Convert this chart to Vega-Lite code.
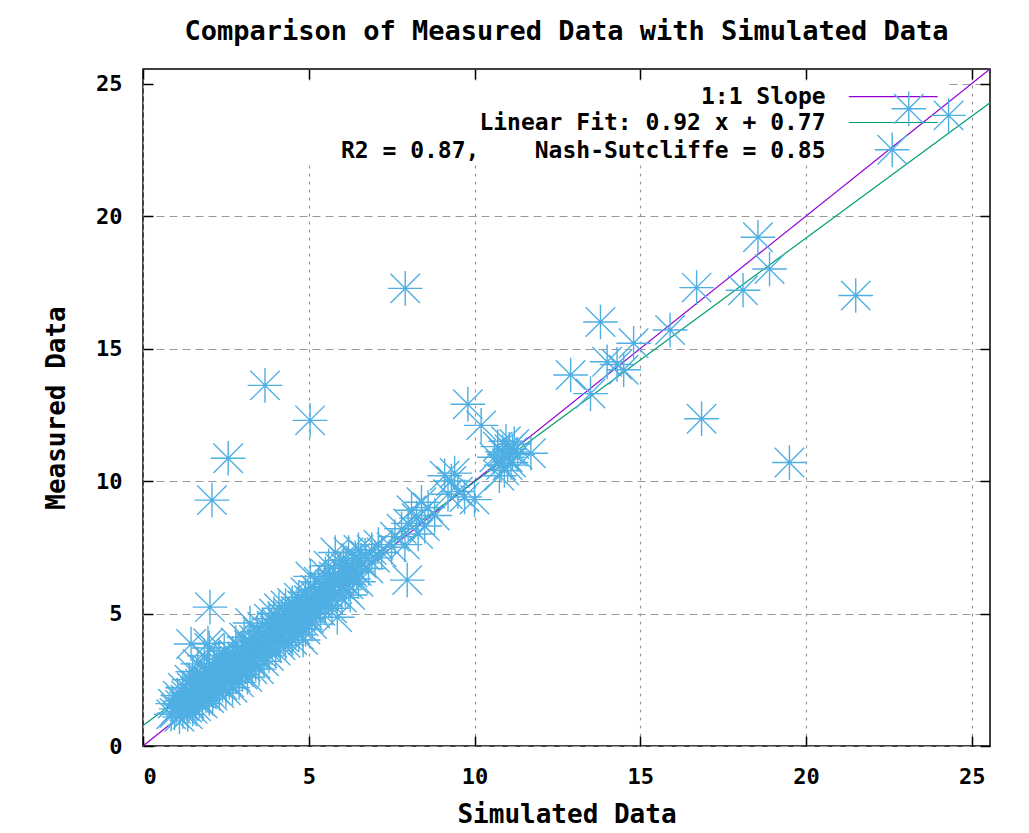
{
  "$schema": "https://vega.github.io/schema/vega-lite/v6.json",
  "width": 847,
  "height": 677,
  "autosize": {"type": "none"},
  "padding": {"left": 143, "top": 69, "right": 39, "bottom": 87},
  "background": "white",
  "config": {
    "view": {"stroke": "black", "strokeWidth": 1.5, "fill": "white"},
    "font": "DejaVu Sans Mono",
    "axis": {
      "domain": false,
      "labelFont": "DejaVu Sans Mono",
      "labelFontWeight": "bold",
      "labelFontSize": 22,
      "labelColor": "black",
      "tickColor": "black",
      "tickWidth": 1.5,
      "tickSize": -10,
      "titleFont": "DejaVu Sans Mono",
      "titleFontWeight": "bold",
      "titleFontSize": 26,
      "titleColor": "black",
      "gridColor": "#9a9a9a",
      "gridWidth": 1.2,
      "gridOpacity": 1
    }
  },
  "title": {
    "text": "Comparison of Measured Data with Simulated Data",
    "font": "DejaVu Sans Mono",
    "fontWeight": "bold",
    "fontSize": 27,
    "color": "black",
    "anchor": "middle",
    "offset": 22
  },
  "datasets": {
    "pts": [
      {"sim": 0.85, "meas": 1.2}, {"sim": 0.9, "meas": 1.6}, {"sim": 1.0, "meas": 1.4}, {"sim": 1.05, "meas": 1.9},
      {"sim": 1.1, "meas": 1.1}, {"sim": 1.15, "meas": 1.7}, {"sim": 1.2, "meas": 1.3}, {"sim": 1.2, "meas": 2.2},
      {"sim": 1.25, "meas": 1.5}, {"sim": 1.3, "meas": 1.9}, {"sim": 1.35, "meas": 1.2}, {"sim": 1.4, "meas": 2.5},
      {"sim": 1.4, "meas": 1.6}, {"sim": 1.45, "meas": 2.0}, {"sim": 1.45, "meas": 3.85}, {"sim": 1.5, "meas": 1.4},
      {"sim": 1.5, "meas": 2.8}, {"sim": 1.55, "meas": 1.8}, {"sim": 1.6, "meas": 2.3}, {"sim": 1.6, "meas": 1.5},
      {"sim": 1.65, "meas": 3.1}, {"sim": 1.7, "meas": 2.0}, {"sim": 1.7, "meas": 1.7}, {"sim": 1.75, "meas": 2.6},
      {"sim": 1.8, "meas": 1.6}, {"sim": 1.8, "meas": 2.2}, {"sim": 1.85, "meas": 3.4}, {"sim": 1.9, "meas": 1.9},
      {"sim": 1.9, "meas": 2.5}, {"sim": 1.95, "meas": 2.1}, {"sim": 2.0, "meas": 1.8}, {"sim": 2.0, "meas": 2.8},
      {"sim": 2.0, "meas": 3.7}, {"sim": 1.96, "meas": 3.88}, {"sim": 2.02, "meas": 5.24},
      {"sim": 0.95, "meas": 1.25}, {"sim": 1.12, "meas": 1.55}, {"sim": 1.28, "meas": 1.75}, {"sim": 1.33, "meas": 1.45},
      {"sim": 1.48, "meas": 2.2}, {"sim": 1.58, "meas": 2.05}, {"sim": 1.62, "meas": 1.85}, {"sim": 1.72, "meas": 2.35},
      {"sim": 1.78, "meas": 1.95}, {"sim": 1.88, "meas": 2.3}, {"sim": 1.92, "meas": 2.75}, {"sim": 1.98, "meas": 2.45},
      {"sim": 2.12, "meas": 2.2}, {"sim": 2.18, "meas": 2.65}, {"sim": 2.28, "meas": 2.35}, {"sim": 2.38, "meas": 2.85},
      {"sim": 2.42, "meas": 2.55}, {"sim": 2.52, "meas": 2.75}, {"sim": 2.58, "meas": 3.3}, {"sim": 2.68, "meas": 2.9},
      {"sim": 2.78, "meas": 3.2}, {"sim": 2.88, "meas": 3.0}, {"sim": 2.98, "meas": 3.35}, {"sim": 3.08, "meas": 3.55},
      {"sim": 3.18, "meas": 3.4}, {"sim": 3.28, "meas": 3.75}, {"sim": 3.38, "meas": 3.45}, {"sim": 3.48, "meas": 3.85},
      {"sim": 2.05, "meas": 2.3}, {"sim": 2.1, "meas": 1.9}, {"sim": 2.1, "meas": 2.6}, {"sim": 2.15, "meas": 3.0},
      {"sim": 2.2, "meas": 2.1}, {"sim": 2.2, "meas": 2.4}, {"sim": 2.25, "meas": 2.8}, {"sim": 2.3, "meas": 3.3},
      {"sim": 2.3, "meas": 2.0}, {"sim": 2.35, "meas": 2.6}, {"sim": 2.4, "meas": 2.3}, {"sim": 2.4, "meas": 3.0},
      {"sim": 2.45, "meas": 3.6}, {"sim": 2.5, "meas": 2.5}, {"sim": 2.5, "meas": 2.1}, {"sim": 2.55, "meas": 2.9},
      {"sim": 2.6, "meas": 3.2}, {"sim": 2.6, "meas": 2.4}, {"sim": 2.65, "meas": 2.7}, {"sim": 2.7, "meas": 3.5},
      {"sim": 2.7, "meas": 2.2}, {"sim": 2.75, "meas": 3.0}, {"sim": 2.8, "meas": 2.6}, {"sim": 2.8, "meas": 3.9},
      {"sim": 2.85, "meas": 3.3}, {"sim": 2.9, "meas": 2.8}, {"sim": 2.9, "meas": 2.4}, {"sim": 2.95, "meas": 3.1},
      {"sim": 3.0, "meas": 3.6}, {"sim": 3.0, "meas": 2.7}, {"sim": 3.05, "meas": 4.1}, {"sim": 3.1, "meas": 3.0},
      {"sim": 3.1, "meas": 3.3}, {"sim": 3.15, "meas": 2.6}, {"sim": 3.2, "meas": 3.8}, {"sim": 3.23, "meas": 4.64},
      {"sim": 3.25, "meas": 3.2}, {"sim": 3.3, "meas": 2.9}, {"sim": 3.3, "meas": 3.5}, {"sim": 3.35, "meas": 4.0},
      {"sim": 3.4, "meas": 3.1}, {"sim": 3.4, "meas": 3.7}, {"sim": 3.45, "meas": 4.3}, {"sim": 3.5, "meas": 3.4},
      {"sim": 3.5, "meas": 2.9},
      {"sim": 3.55, "meas": 3.9}, {"sim": 3.6, "meas": 3.5}, {"sim": 3.6, "meas": 4.5}, {"sim": 3.65, "meas": 3.2},
      {"sim": 3.7, "meas": 4.1}, {"sim": 3.75, "meas": 3.7}, {"sim": 3.8, "meas": 4.8}, {"sim": 3.8, "meas": 3.4},
      {"sim": 3.85, "meas": 4.3}, {"sim": 3.9, "meas": 3.9}, {"sim": 3.95, "meas": 5.0}, {"sim": 4.0, "meas": 4.2},
      {"sim": 4.0, "meas": 3.6}, {"sim": 4.05, "meas": 4.6}, {"sim": 4.1, "meas": 4.0}, {"sim": 4.1, "meas": 5.2},
      {"sim": 4.15, "meas": 3.8}, {"sim": 4.2, "meas": 4.4}, {"sim": 4.2, "meas": 4.9}, {"sim": 4.25, "meas": 4.1},
      {"sim": 4.3, "meas": 5.3}, {"sim": 4.3, "meas": 3.9}, {"sim": 4.35, "meas": 4.7}, {"sim": 4.4, "meas": 4.3},
      {"sim": 4.4, "meas": 5.0}, {"sim": 4.45, "meas": 4.5}, {"sim": 4.5, "meas": 5.4}, {"sim": 4.5, "meas": 4.0},
      {"sim": 4.55, "meas": 4.8}, {"sim": 4.6, "meas": 4.4}, {"sim": 4.6, "meas": 5.1}, {"sim": 4.65, "meas": 4.6},
      {"sim": 4.7, "meas": 5.6}, {"sim": 4.7, "meas": 4.2}, {"sim": 4.75, "meas": 4.9}, {"sim": 4.83, "meas": 4.0},
      {"sim": 4.8, "meas": 5.3}, {"sim": 4.85, "meas": 4.7}, {"sim": 4.9, "meas": 5.8}, {"sim": 4.9, "meas": 4.4},
      {"sim": 4.95, "meas": 5.0}, {"sim": 5.0, "meas": 4.8}, {"sim": 5.0, "meas": 5.5}, {"sim": 5.05, "meas": 6.4},
      {"sim": 5.1, "meas": 4.6}, {"sim": 5.1, "meas": 5.2}, {"sim": 5.15, "meas": 5.7},
      {"sim": 3.62, "meas": 4.05}, {"sim": 3.72, "meas": 3.85}, {"sim": 3.88, "meas": 4.55}, {"sim": 3.98, "meas": 4.35},
      {"sim": 4.08, "meas": 4.25}, {"sim": 4.18, "meas": 4.65}, {"sim": 4.28, "meas": 4.45}, {"sim": 4.38, "meas": 4.85},
      {"sim": 4.48, "meas": 4.7}, {"sim": 4.58, "meas": 4.95}, {"sim": 4.68, "meas": 5.2}, {"sim": 4.78, "meas": 5.05},
      {"sim": 4.88, "meas": 5.35}, {"sim": 4.98, "meas": 5.2}, {"sim": 5.08, "meas": 5.45},
      {"sim": 5.2, "meas": 5.0}, {"sim": 5.2, "meas": 5.9}, {"sim": 5.25, "meas": 5.4}, {"sim": 5.3, "meas": 6.2},
      {"sim": 5.35, "meas": 5.1}, {"sim": 5.4, "meas": 5.7}, {"sim": 5.45, "meas": 6.0}, {"sim": 5.5, "meas": 5.3},
      {"sim": 5.5, "meas": 6.5}, {"sim": 5.55, "meas": 5.8}, {"sim": 5.6, "meas": 5.5}, {"sim": 5.6, "meas": 6.8},
      {"sim": 5.65, "meas": 6.1}, {"sim": 5.7, "meas": 5.2}, {"sim": 5.75, "meas": 6.4}, {"sim": 5.8, "meas": 5.8},
      {"sim": 5.8, "meas": 7.3}, {"sim": 5.86, "meas": 4.86}, {"sim": 5.9, "meas": 6.1}, {"sim": 5.95, "meas": 6.7},
      {"sim": 6.0, "meas": 5.6}, {"sim": 6.0, "meas": 6.3}, {"sim": 6.05, "meas": 7.0}, {"sim": 6.1, "meas": 5.9},
      {"sim": 6.15, "meas": 6.5}, {"sim": 6.2, "meas": 7.3}, {"sim": 6.2, "meas": 6.1}, {"sim": 6.25, "meas": 5.7},
      {"sim": 6.3, "meas": 6.8}, {"sim": 6.35, "meas": 6.3}, {"sim": 6.4, "meas": 7.1}, {"sim": 6.45, "meas": 6.6},
      {"sim": 6.5, "meas": 7.4}, {"sim": 6.5, "meas": 6.2}, {"sim": 6.6, "meas": 6.9}, {"sim": 6.7, "meas": 7.2},
      {"sim": 6.8, "meas": 6.7}, {"sim": 6.9, "meas": 7.4}, {"sim": 7.0, "meas": 7.1}, {"sim": 7.1, "meas": 7.6},
      {"sim": 7.2, "meas": 7.3}, {"sim": 7.97, "meas": 6.26},
      {"sim": 5.32, "meas": 5.65}, {"sim": 5.52, "meas": 6.0}, {"sim": 5.72, "meas": 6.15}, {"sim": 5.92, "meas": 6.45},
      {"sim": 6.12, "meas": 6.7}, {"sim": 6.32, "meas": 6.55}, {"sim": 6.55, "meas": 7.0},
      {"sim": 7.5, "meas": 7.5}, {"sim": 7.6, "meas": 7.9}, {"sim": 7.8, "meas": 8.2}, {"sim": 7.9, "meas": 7.6},
      {"sim": 8.0, "meas": 8.4}, {"sim": 8.1, "meas": 8.9}, {"sim": 8.25, "meas": 8.6}, {"sim": 8.4, "meas": 9.2},
      {"sim": 8.5, "meas": 8.3}, {"sim": 8.6, "meas": 9.0}, {"sim": 8.8, "meas": 8.7}, {"sim": 8.3, "meas": 8.0},
      {"sim": 9.1, "meas": 10.2}, {"sim": 9.3, "meas": 10.0}, {"sim": 9.5, "meas": 9.6}, {"sim": 9.7, "meas": 9.4},
      {"sim": 10.0, "meas": 9.3}, {"sim": 9.2, "meas": 9.5}, {"sim": 9.4, "meas": 10.3},
      {"sim": 10.6, "meas": 10.9}, {"sim": 10.7, "meas": 11.3}, {"sim": 10.8, "meas": 10.6}, {"sim": 10.85, "meas": 11.1},
      {"sim": 10.9, "meas": 10.4}, {"sim": 10.95, "meas": 11.5}, {"sim": 11.0, "meas": 10.9}, {"sim": 11.05, "meas": 11.2},
      {"sim": 11.1, "meas": 10.7}, {"sim": 11.2, "meas": 11.4}, {"sim": 11.3, "meas": 11.0}, {"sim": 10.75, "meas": 10.2},
      {"sim": 10.9, "meas": 11.0}, {"sim": 11.0, "meas": 10.6}, {"sim": 11.15, "meas": 11.1},
      {"sim": 11.7, "meas": 11.05},
      {"sim": 9.8, "meas": 12.9}, {"sim": 10.2, "meas": 12.1},
      {"sim": 7.91, "meas": 17.27}, {"sim": 3.68, "meas": 13.61}, {"sim": 5.04, "meas": 12.29}, {"sim": 2.57, "meas": 10.86},
      {"sim": 2.08, "meas": 9.28},
      {"sim": 12.9, "meas": 14.0}, {"sim": 13.5, "meas": 13.3}, {"sim": 13.8, "meas": 16.0}, {"sim": 14.0, "meas": 14.5},
      {"sim": 14.3, "meas": 14.4}, {"sim": 14.5, "meas": 14.2}, {"sim": 14.8, "meas": 15.2}, {"sim": 15.9, "meas": 15.7},
      {"sim": 16.7, "meas": 17.3}, {"sim": 16.85, "meas": 12.35}, {"sim": 18.1, "meas": 17.2}, {"sim": 18.55, "meas": 19.2},
      {"sim": 18.9, "meas": 18.0}, {"sim": 19.5, "meas": 10.7}, {"sim": 21.5, "meas": 17.0}, {"sim": 22.6, "meas": 22.5},
      {"sim": 23.1, "meas": 24.05}, {"sim": 24.3, "meas": 23.8}
    ],
    "one": [{"k": 1}]
  },
  "resolve": {"axis": {"x": "independent", "y": "independent"}},
  "layer": [
    {
      "data": {"name": "one"},
      "mark": {"type": "rect", "fill": "white"},
      "encoding": {
        "x": {"datum": 0.35, "type": "quantitative", "scale": {"domain": [0, 25.55], "nice": false, "zero": false},
              "axis": {"orient": "top", "values": [0, 5, 10, 15, 20, 25], "labels": false, "grid": false, "title": null}},
        "x2": {"datum": 24.3},
        "y": {"datum": 22.0, "type": "quantitative", "scale": {"domain": [0, 25.55], "nice": false, "zero": false},
              "axis": {"orient": "right", "values": [0, 5, 10, 15, 20, 25], "labels": false, "grid": false, "title": null}},
        "y2": {"datum": 25.1}
      }
    },
    {
      "data": {"name": "one"},
      "mark": {"type": "rule", "color": "#9400d3", "strokeWidth": 1.2},
      "encoding": {
        "x": {"datum": 0, "type": "quantitative", "axis": null},
        "y": {"datum": 0, "type": "quantitative", "axis": null},
        "x2": {"datum": 25.55},
        "y2": {"datum": 25.55}
      }
    },
    {
      "data": {"name": "one"},
      "mark": {"type": "rule", "color": "#009e73", "strokeWidth": 1.2},
      "encoding": {
        "x": {"datum": 0, "type": "quantitative", "axis": null},
        "y": {"datum": 0.77, "type": "quantitative", "axis": null},
        "x2": {"datum": 25.55},
        "y2": {"datum": 24.276}
      }
    },
    {
      "data": {"name": "one"},
      "mark": {"type": "rule", "color": "#9400d3", "strokeWidth": 1.2},
      "encoding": {
        "x": {"datum": 21.29, "type": "quantitative", "axis": null},
        "x2": {"datum": 23.97},
        "y": {"datum": 24.51, "type": "quantitative", "axis": null}
      }
    },
    {
      "data": {"name": "one"},
      "mark": {"type": "rule", "color": "#009e73", "strokeWidth": 1.2},
      "encoding": {
        "x": {"datum": 21.29, "type": "quantitative", "axis": null},
        "x2": {"datum": 23.97},
        "y": {"datum": 23.53, "type": "quantitative", "axis": null}
      }
    },
    {
      "data": {"name": "pts"},
      "mark": {
        "type": "point",
        "shape": "M-1,0L1,0M0,-1L0,1M-0.85,-0.85L0.85,0.85M-0.85,0.85L0.85,-0.85",
        "filled": false,
        "stroke": "#4fafe3",
        "strokeWidth": 1.4,
        "size": 1200,
        "opacity": 1
      },
      "encoding": {
        "x": {"field": "sim", "type": "quantitative", "scale": {"domain": [0, 25.55], "nice": false, "zero": false},
              "axis": {"orient": "bottom", "values": [0, 5, 10, 15, 20, 25], "grid": true, "gridDash": [3, 5],
                       "title": "Simulated Data", "labelPadding": 30, "titlePadding": 14}},
        "y": {"field": "meas", "type": "quantitative", "scale": {"domain": [0, 25.55], "nice": false, "zero": false},
              "axis": {"orient": "left", "values": [0, 5, 10, 15, 20, 25], "grid": true, "gridDash": [8, 5],
                       "title": "Measured Data", "labelPadding": 31, "titlePadding": 26}}
      }
    },
    {
      "data": {"name": "one"},
      "mark": {"type": "text", "align": "right", "baseline": "middle", "font": "DejaVu Sans Mono", "fontWeight": "bold", "fontSize": 23, "color": "black"},
      "encoding": {
        "x": {"datum": 20.59, "type": "quantitative", "axis": null},
        "y": {"datum": 24.51, "type": "quantitative", "axis": null},
        "text": {"value": "1:1 Slope"}
      }
    },
    {
      "data": {"name": "one"},
      "mark": {"type": "text", "align": "right", "baseline": "middle", "font": "DejaVu Sans Mono", "fontWeight": "bold", "fontSize": 23, "color": "black"},
      "encoding": {
        "x": {"datum": 20.59, "type": "quantitative", "axis": null},
        "y": {"datum": 23.53, "type": "quantitative", "axis": null},
        "text": {"value": "Linear Fit: 0.92 x + 0.77"}
      }
    },
    {
      "data": {"name": "one"},
      "mark": {"type": "text", "align": "right", "baseline": "middle", "font": "DejaVu Sans Mono", "fontWeight": "bold", "fontSize": 23, "color": "black"},
      "encoding": {
        "x": {"datum": 20.59, "type": "quantitative", "axis": null},
        "y": {"datum": 22.44, "type": "quantitative", "axis": null},
        "text": {"value": "R2 = 0.87,\u00a0\u00a0\u00a0\u00a0Nash-Sutcliffe = 0.85"}
      }
    }
  ]
}
